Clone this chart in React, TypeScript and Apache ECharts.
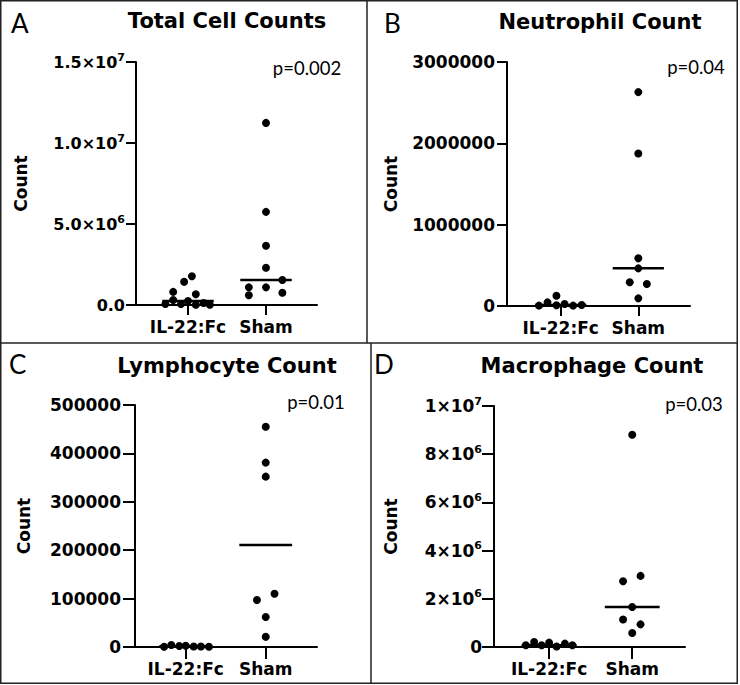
import React, { useEffect, useRef } from "react";
import * as echarts from "echarts";

// ---------- data ----------
const categories = ["IL-22:Fc", "Sham"];

// A – Total Cell Counts
const aIlValues = [1770000, 1430000, 810000, 660000, 310000, 60000, 60000, 250000, 20000, 120000, 20000];
const aIlJitter = [0.05, -0.05, -0.19, 0.1, -0.19, -0.29, -0.09, 0, 0.1, 0.2, 0.28];
const aShamValues = [11240000, 5750000, 3660000, 2300000, 1540000, 1090000, 1090000, 760000, 600000];
const aShamJitter = [0, 0, 0, 0, 0.21, -0.22, 0, 0.21, -0.22];
const aCentralLines = [250000, 1540000];
const aTickLabels = ["0.0", "5.0×10^6", "1.0×10^7", "1.5×10^7"];

// B – Neutrophil Count
const bIlValues = [5000, 45000, 125000, 10000, 25000, 5000, 12000];
const bIlJitter = [-0.28, -0.17, -0.055, -0.055, 0.05, 0.16, 0.27];
const bShamValues = [2630000, 1876000, 586000, 463000, 291000, 270000, 94000];
const bShamJitter = [0, 0, 0, 0, -0.11, 0.11, 0];
const bCentralLines = [12000, 463000];
const bTickLabels = ["0", "1000000", "2000000", "3000000"];

// C – Lymphocyte Count
const cIlValues = [500, 4000, 2000, 2500, 1000, 1000, 500];
const cIlJitter = [-0.27, -0.18, -0.08, 0, 0.1, 0.19, 0.29];
const cShamValues = [455000, 381000, 352000, 110000, 97000, 62000, 21000];
const cShamJitter = [0, 0, 0, 0.11, -0.11, 0, 0];
const cCentralLines = [1500, 211000];
const cTickLabels = ["0", "100000", "200000", "300000", "400000", "500000"];

// D – Macrophage Count
const dIlValues = [70000, 210000, 70000, 180000, 20000, 140000, 70000];
const dIlJitter = [-0.28, -0.18, -0.09, 0, 0.09, 0.19, 0.28];
const dShamValues = [8810000, 2950000, 2730000, 1660000, 1140000, 940000, 580000];
const dShamJitter = [0, 0.1, -0.11, 0, -0.11, 0.1, 0];
const dCentralLines = [70000, 1660000];
const dTickLabels = ["0", "2×10^6", "4×10^6", "6×10^6", "8×10^6", "1×10^7"];

const titles = ["Total Cell Counts", "Neutrophil Count", "Lymphocyte Count", "Macrophage Count"];
const letters = ["A", "B", "C", "D"];
const pValues = ["p=0.002", "p=0.04", "p=0.01", "p=0.03"];
const yMaxes = [15000000, 3000000, 500000, 10000000];
const yIntervals = [5000000, 1000000, 100000, 2000000];
const yAxisName = "Count";

// ---------- layout / style ----------
const BOLD = "'DejaVu Sans', 'Liberation Sans', sans-serif";
const PLAIN = "Lato, 'Open Sans', sans-serif";
const LINE_HALF = 0.33;

const panelData = [
  { il: aIlValues, ilJ: aIlJitter, sham: aShamValues, shamJ: aShamJitter, lines: aCentralLines, ticks: aTickLabels },
  { il: bIlValues, ilJ: bIlJitter, sham: bShamValues, shamJ: bShamJitter, lines: bCentralLines, ticks: bTickLabels },
  { il: cIlValues, ilJ: cIlJitter, sham: cShamValues, shamJ: cShamJitter, lines: cCentralLines, ticks: cTickLabels },
  { il: dIlValues, ilJ: dIlJitter, sham: dShamValues, shamJ: dShamJitter, lines: dCentralLines, ticks: dTickLabels },
];

const layouts = [
  { grid: { left: 136, top: 62, width: 181, height: 243 }, xMin: -0.667, xMax: 1.654, tick: 10, lblMargin: 11, nameGap: 107, tickFont: 16,
    letter: [11, 23], title: [227, 21], p: [307, 68] },
  { grid: { left: 507, top: 62, width: 183, height: 244 }, xMin: -0.692, xMax: 1.666, tick: 10, lblMargin: 12, nameGap: 108, tickFont: 17,
    letter: [384, 23], title: [600, 22], p: [696, 67] },
  { grid: { left: 135, top: 405, width: 182, height: 242 }, xMin: -0.634, xMax: 1.641, tick: 12, lblMargin: 14, nameGap: 103, tickFont: 17,
    letter: [9, 364], title: [227, 366], p: [316, 402] },
  { grid: { left: 494, top: 406, width: 191, height: 241 }, xMin: -0.663, xMax: 1.635, tick: 12, lblMargin: 12, nameGap: 95, tickFont: 17,
    letter: [374, 364], title: [592, 366], p: [694, 404] },
];

const black = "#000";

function makeFormatter(labels: string[], interval: number) {
  return (v: number) => {
    const lab = labels[Math.round(v / interval)] ?? "";
    if (lab.includes("^")) {
      const [base, exp] = lab.split("^");
      return `{n|${base}}{s|${exp}}`;
    }
    return `{n|${lab}}`;
  };
}

function buildOption() {
  const grids: any[] = [];
  const xAxes: any[] = [];
  const yAxes: any[] = [];
  const series: any[] = [];
  const graphics: any[] = [];

  panelData.forEach((pd, i) => {
    const L = layouts[i];
    grids.push({ ...L.grid, containLabel: false });
    xAxes.push({
      type: "value",
      gridIndex: i,
      min: L.xMin,
      max: L.xMax,
      axisLine: { show: true, onZero: false, lineStyle: { color: black, width: 2 } },
      axisTick: { show: true, customValues: [0, 1], length: L.tick, lineStyle: { color: black, width: 2 } },
      axisLabel: {
        show: true,
        customValues: [0, 1],
        formatter: (v: number) => categories[Math.round(v)] ?? "",
        margin: 13,
        color: black,
        fontFamily: BOLD,
        fontWeight: "bold",
        fontSize: 17,
      },
      splitLine: { show: false },
    });
    yAxes.push({
      type: "value",
      gridIndex: i,
      min: 0,
      max: yMaxes[i],
      interval: yIntervals[i],
      name: yAxisName,
      nameLocation: "middle",
      nameGap: L.nameGap,
      nameTextStyle: { color: black, fontFamily: BOLD, fontWeight: "bold", fontSize: 17 },
      axisLine: { show: true, onZero: false, lineStyle: { color: black, width: 2 } },
      axisTick: { show: true, length: L.tick, lineStyle: { color: black, width: 2 } },
      axisLabel: {
        margin: L.lblMargin,
        color: black,
        formatter: makeFormatter(pd.ticks, yIntervals[i]),
        rich: {
          n: { fontFamily: BOLD, fontWeight: "bold", fontSize: L.tickFont, color: black, lineHeight: 21 },
          s: { fontFamily: BOLD, fontWeight: "bold", fontSize: 11, color: black, verticalAlign: "top", lineHeight: 12 },
        },
      },
      splitLine: { show: false },
    });

    const groups = [
      { vals: pd.il, jit: pd.ilJ, c: 0 },
      { vals: pd.sham, jit: pd.shamJ, c: 1 },
    ];
    groups.forEach((g, gi) => {
      series.push({
        type: "scatter",
        name: `${letters[i]}-${categories[gi]}`,
        xAxisIndex: i,
        yAxisIndex: i,
        symbol: "circle",
        symbolSize: 8,
        itemStyle: { color: black, opacity: 1 },
        data: g.vals.map((v, k) => [g.c + g.jit[k], v]),
        z: 3,
      });
      series.push({
        type: "line",
        xAxisIndex: i,
        yAxisIndex: i,
        showSymbol: false,
        symbol: "none",
        lineStyle: { color: black, width: 2.5 },
        data: [
          [g.c - LINE_HALF, pd.lines[gi]],
          [g.c + LINE_HALF, pd.lines[gi]],
        ],
        z: 4,
      });
    });

    graphics.push({
      type: "text",
      x: L.letter[0],
      y: L.letter[1],
      style: { text: letters[i], fontFamily: PLAIN, fontSize: 26, fill: black, textAlign: "left", textVerticalAlign: "middle" },
    });
    graphics.push({
      type: "text",
      x: L.title[0],
      y: L.title[1],
      style: { text: titles[i], fontFamily: BOLD, fontWeight: "bold", fontSize: 21, fill: black, textAlign: "center", textVerticalAlign: "middle" },
    });
    graphics.push({
      type: "text",
      x: L.p[0],
      y: L.p[1],
      style: { text: pValues[i], fontFamily: PLAIN, fontSize: 18.5, fill: black, textAlign: "center", textVerticalAlign: "middle" },
    });
  });

  // panel frames
  const frame = { stroke: "#222", lineWidth: 1.5 };
  graphics.push({ type: "rect", shape: { x: 0.75, y: 0.75, width: 736.5, height: 682.5 }, style: { ...frame, fill: "none" } });
  graphics.push({ type: "line", shape: { x1: 367, y1: 0, x2: 367, y2: 343 }, style: frame });
  graphics.push({ type: "line", shape: { x1: 0, y1: 343, x2: 737, y2: 343 }, style: frame });
  graphics.push({ type: "line", shape: { x1: 371, y1: 343, x2: 371, y2: 683 }, style: frame });

  return {
    animation: false,
    backgroundColor: "#fff",
    grid: grids,
    xAxis: xAxes,
    yAxis: yAxes,
    series,
    graphic: graphics,
  };
}

export default function App() {
  const ref = useRef<HTMLDivElement>(null);
  useEffect(() => {
    if (!ref.current) return;
    const chart = echarts.init(ref.current, undefined, { renderer: "svg" });
    chart.setOption(buildOption() as any);
    return () => chart.dispose();
  }, []);
  return <div ref={ref} style={{ position: "absolute", left: 0, top: 0, width: 740, height: 685 }} />;
}
